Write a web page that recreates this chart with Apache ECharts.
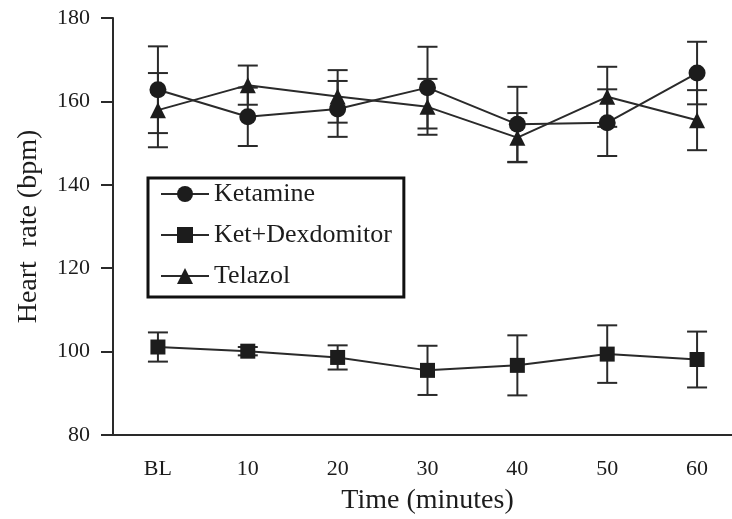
<!DOCTYPE html>
<html>
<head>
<meta charset="utf-8">
<script src="https://cdn.jsdelivr.net/npm/echarts@6/dist/echarts.min.js"></script>
<style>
  html, body { margin: 0; padding: 0; background: #fff; }
  #chart { width: 732px; height: 519px; }
</style>
</head>
<body>
<div id="chart"></div>
<script>
// Time points and heart-rate means / SEM for each anesthetic protocol
const timeLabels = ['BL', '10', '20', '30', '40', '50', '60'];

const ketamineMean = [162.8, 156.3, 158.2, 163.3, 154.5, 154.9, 166.8];
const ketamineErr  = [10.4, 7.0, 6.7, 9.8, 9.0, 8.0, 7.5];

const ketDexMean = [101.1, 100.1, 98.6, 95.5, 96.7, 99.4, 98.1];
const ketDexErr  = [3.5, 1.0, 2.9, 5.9, 7.2, 6.9, 6.7];

const telazolMean = [157.9, 163.9, 161.2, 158.7, 151.3, 161.1, 155.5];
const telazolErr  = [8.9, 4.7, 6.3, 6.7, 5.9, 7.2, 7.2];

const yTicks = { min: 80, max: 180, step: 20 };

const FONT = '"Liberation Serif", "DejaVu Serif", serif';
const INK = '#1c1c1c';
const STROKE = '#2a2a2a';

function errorRows(mean, err) {
  return mean.map((m, i) => [i, m - err[i], m + err[i]]);
}

// Vertical whisker with a cap at each end, placed through the axes' own scales
function errorSeries(name, mean, err) {
  return {
    type: 'custom',
    name: name + ' SEM',
    data: errorRows(mean, err),
    z: 1,
    silent: true,
    renderItem: function (params, api) {
      const x = api.value(0);
      const lo = api.coord([x, api.value(1)]);
      const hi = api.coord([x, api.value(2)]);
      const half = 10;
      const style = { stroke: STROKE, lineWidth: 2, fill: null };
      return {
        type: 'group',
        children: [
          { type: 'line', shape: { x1: lo[0], y1: lo[1], x2: hi[0], y2: hi[1] }, style: style },
          { type: 'line', shape: { x1: lo[0] - half, y1: lo[1], x2: lo[0] + half, y2: lo[1] }, style: style },
          { type: 'line', shape: { x1: hi[0] - half, y1: hi[1], x2: hi[0] + half, y2: hi[1] }, style: style }
        ]
      };
    }
  };
}

function lineSeries(name, mean, symbol, size) {
  return {
    type: 'line',
    name: name,
    data: mean,
    symbol: symbol,
    symbolSize: size,
    z: 3,
    lineStyle: { color: STROKE, width: 2 },
    itemStyle: { color: INK, borderWidth: 0 },
    emphasis: { disabled: true }
  };
}

const chart = echarts.init(document.getElementById('chart'), null, { renderer: 'canvas' });

chart.setOption({
  animation: false,
  backgroundColor: '#fff',
  grid: { left: 113, top: 18, width: 629, bottom: 84, outerBoundsMode: 'none', containLabel: false },
  legend: {
    data: ['Ketamine', 'Ket+Dexdomitor', 'Telazol'],
    orient: 'vertical',
    left: 148,
    top: 178,
    itemWidth: 48,
    itemHeight: 20,
    itemGap: 15,
    padding: [3, 12, 8, 12],
    borderColor: '#111',
    borderWidth: 3,
    backgroundColor: '#fff',
    selectedMode: false,
    textStyle: { fontFamily: FONT, fontSize: 26, color: INK }
  },
  xAxis: {
    type: 'category',
    data: timeLabels,
    boundaryGap: true,
    name: 'Time (minutes)',
    nameLocation: 'middle',
    nameGap: 52,
    nameTextStyle: { fontFamily: FONT, fontSize: 28, color: INK },
    axisLine: { lineStyle: { color: STROKE, width: 2 } },
    axisTick: { alignWithLabel: true, length: 12, lineStyle: { color: STROKE, width: 2 } },
    axisLabel: { fontFamily: FONT, fontSize: 22, color: INK, margin: 23 },
    splitLine: { show: false }
  },
  yAxis: {
    type: 'value',
    min: yTicks.min,
    max: yTicks.max,
    interval: yTicks.step,
    name: 'Heart  rate (bpm)',
    nameLocation: 'middle',
    nameGap: 70,
    nameTextStyle: { fontFamily: FONT, fontSize: 28, color: INK },
    axisLine: { show: true, lineStyle: { color: STROKE, width: 2 } },
    axisTick: { show: true, length: 12, lineStyle: { color: STROKE, width: 2 } },
    axisLabel: { fontFamily: FONT, fontSize: 22, color: INK, margin: 23 },
    splitLine: { show: false }
  },
  series: [
    errorSeries('Ketamine', ketamineMean, ketamineErr),
    errorSeries('Ket+Dexdomitor', ketDexMean, ketDexErr),
    errorSeries('Telazol', telazolMean, telazolErr),
    lineSeries('Ketamine', ketamineMean, 'circle', 17),
    lineSeries('Ket+Dexdomitor', ketDexMean, 'rect', 15),
    lineSeries('Telazol', telazolMean, 'triangle', 16)
  ]
});
</script>
</body>
</html>
